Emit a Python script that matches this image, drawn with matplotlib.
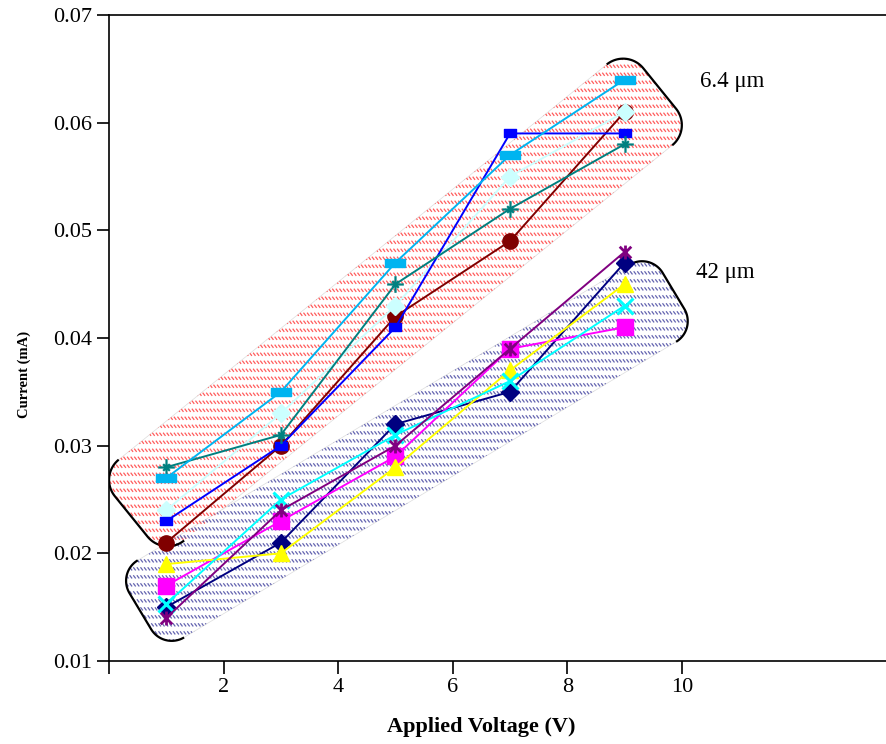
import numpy as np
import matplotlib
matplotlib.use("Agg")
import matplotlib.pyplot as plt
from matplotlib.path import Path
from matplotlib.patches import PathPatch
from matplotlib.collections import LineCollection
from matplotlib.transforms import Affine2D, IdentityTransform

plt.rcParams['font.family'] = ['Liberation Serif', 'DejaVu Serif']

# data
voltage = [1, 3, 5, 7, 9]

# 6.4 um group
up_maroon = [0.021, 0.030, 0.042, 0.049, 0.061]
up_lightcyan = [0.024, 0.033, 0.043, 0.055, 0.061]
up_blue = [0.023, 0.030, 0.041, 0.059, 0.059]
up_teal = [0.028, 0.031, 0.045, 0.052, 0.058]
up_skyblue = [0.027, 0.035, 0.047, 0.057, 0.064]

# 42 um group
lo_navy = [0.015, 0.021, 0.032, 0.035, 0.047]
lo_magenta = [0.017, 0.023, 0.029, 0.039, 0.041]
lo_yellow = [0.019, 0.020, 0.028, 0.037, 0.045]
lo_cyan = [0.0153, 0.025, 0.031, 0.036, 0.043]
lo_purple = [0.014, 0.024, 0.030, 0.039, 0.048]

xticks = [0, 2, 4, 6, 8, 10]
xticklabels = ['', '2', '4', '6', '8', '10']
yticks = [0.01, 0.02, 0.03, 0.04, 0.05, 0.06, 0.07]

# custom markers
bar_marker = Path([(-1, -0.38), (1, -0.38), (1, 0.38), (-1, 0.38), (-1, -0.38)],
                  [Path.MOVETO, Path.LINETO, Path.LINETO, Path.LINETO, Path.CLOSEPOLY])
rect_marker = Path([(-1, -0.75), (1, -0.75), (1, 0.75), (-1, 0.75), (-1, -0.75)],
                   [Path.MOVETO, Path.LINETO, Path.LINETO, Path.LINETO, Path.CLOSEPOLY])
star_marker = Path([(-1, -1), (1, 1), (-1, 1), (1, -1), (0, -1.2), (0, 1.2)],
                   [Path.MOVETO, Path.LINETO, Path.MOVETO, Path.LINETO, Path.MOVETO, Path.LINETO])
plus_marker = Path([(-1, 0), (1, 0), (0, -1), (0, 1), (-0.4, -0.4), (0.4, 0.4), (-0.4, 0.4), (0.4, -0.4)],
                   [Path.MOVETO, Path.LINETO, Path.MOVETO, Path.LINETO,
                    Path.MOVETO, Path.LINETO, Path.MOVETO, Path.LINETO])

fig = plt.figure(figsize=(8.87, 7.44), dpi=100)
ax = fig.add_axes([109 / 887, 83 / 744, 778 / 887, 646 / 744])
ax.set_xlim(0, 13.58)
ax.set_ylim(0.01, 0.07)


def band(center, length, width, angle, radius, color):
    # rounded, rotated rectangle filled with rows of short strokes, black caps on the ends
    cx, cy = ax.transData.transform(center)
    hl, hw = length / 2, width / 2
    corners = [(hl - radius, hw - radius, 0, 90), (-hl + radius, hw - radius, 90, 180),
               (-hl + radius, -hw + radius, 180, 270), (hl - radius, -hw + radius, 270, 360)]
    arcs = []
    for x0, y0, a0, a1 in corners:
        t = np.radians(np.linspace(a0, a1, 25))
        arcs.append(np.column_stack([x0 + radius * np.cos(t), y0 + radius * np.sin(t)]))
    tr = Affine2D().rotate_deg(angle).translate(cx, cy)
    outline = tr.transform(np.vstack(arcs + [arcs[0][:1]]))
    shape = PathPatch(Path(outline), transform=IdentityTransform(), facecolor='white',
                      edgecolor='#DDDDDD', lw=0.5, zorder=1)
    ax.add_patch(shape)

    x0, y0 = outline.min(axis=0)
    x1, y1 = outline.max(axis=0)
    segs = []
    for yy in np.arange(y0, y1 + 8, 8.0):
        for xx in np.arange(x0, x1 + 4, 3.6):
            segs.append([(xx, yy + 1.6), (xx + 2.4, yy - 1.6)])
    lc = LineCollection(segs, colors=color, linewidths=0.9, transform=IdentityTransform(), zorder=1.2)
    ax.add_collection(lc)
    lc.set_clip_path(shape)

    for cap in (np.vstack([arcs[1], arcs[2]]), np.vstack([arcs[3], arcs[0]])):
        ax.add_patch(PathPatch(Path(tr.transform(cap)), transform=IdentityTransform(),
                               facecolor='none', edgecolor='black', lw=1.6, zorder=1.5))


band((5.0, 0.0433), 680, 104, 39, 26, '#FF5C5C')
band((5.2, 0.0295), 622, 90, 31, 24, '#6464B0')

lw = 1.4
ax.plot(voltage, up_maroon, color='#800000', lw=lw, marker='o', ms=11, zorder=3)
ax.plot(voltage, up_lightcyan, color='#CCFFFF', lw=lw, marker='D', ms=9, zorder=3)
ax.plot(voltage, up_blue, color='#0000FF', lw=lw, marker=rect_marker, ms=8, zorder=3)
ax.plot(voltage, up_teal, color='#008080', lw=lw, marker=plus_marker, ms=12, mew=1.6, zorder=3)
ax.plot(voltage, up_skyblue, color='#00B4F0', lw=lw, marker=bar_marker, ms=14, zorder=3)

ax.plot(voltage, lo_navy, color='#000080', lw=lw, marker='D', ms=9, zorder=3)
ax.plot(voltage, lo_magenta, color='#FF00FF', lw=lw, marker='s', ms=11, zorder=3)
ax.plot(voltage, lo_yellow, color='#FFFF00', lw=lw, marker='^', ms=12, zorder=3)
ax.plot(voltage, lo_cyan, color='#00FFFF', lw=lw, marker='x', ms=11, mew=2.2, zorder=3)
ax.plot(voltage, lo_purple, color='#800080', lw=lw, marker=star_marker, ms=10, mew=2, zorder=3)

ax.text(10.31, 0.0638, '6.4 \u03bcm', fontsize=16.5, ha='left', va='center')
ax.text(10.24, 0.0461, '42 \u03bcm', fontsize=16.5, ha='left', va='center')

ax.set_xticks(xticks)
ax.set_xticklabels(xticklabels)
ax.set_yticks(yticks)
ax.set_yticklabels([f'{v:.2f}' for v in yticks])
ax.tick_params(direction='out', length=9, width=1.2, labelsize=16)
ax.spines['right'].set_visible(False)
for s in ('left', 'bottom', 'top'):
    ax.spines[s].set_linewidth(1.2)

ax.set_xlabel('Applied Voltage (V)', fontsize=16, fontweight='bold')
ax.xaxis.set_label_coords(0.479, -0.087)
ax.set_ylabel('Current (mA)', fontsize=10.5, fontweight='bold')
ax.yaxis.set_label_coords(-0.1, 0.443)

fig.savefig('out.png', dpi=100)
